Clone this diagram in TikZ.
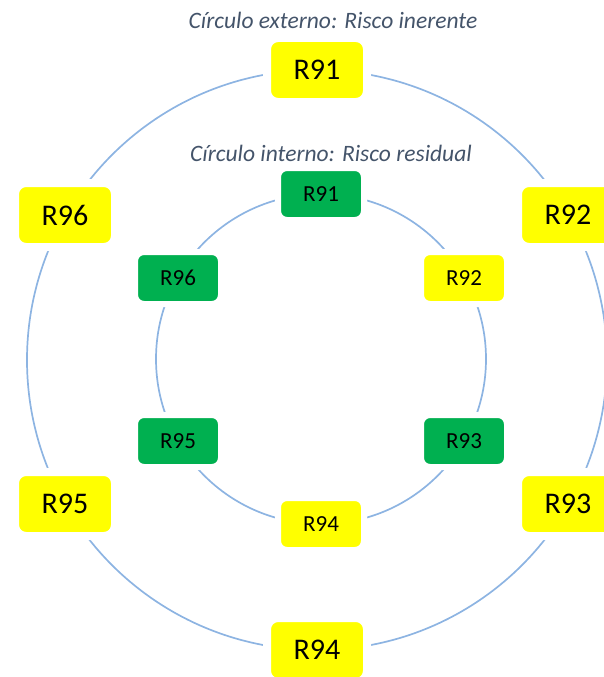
\documentclass[tikz,border=0pt]{standalone}
\usepackage{fontspec}
\setmainfont{Carlito}
\definecolor{ringblue}{HTML}{8DB4E2}
\definecolor{boxyellow}{HTML}{FFFF00}
\definecolor{boxgreen}{HTML}{00B050}
\definecolor{titlegrey}{HTML}{44546A}
\begin{document}
\begin{tikzpicture}[x=1pt,y=-1pt,
  ring/.style={draw=ringblue,line width=1.7pt},
  outerbox/.style={draw=white,line width=8pt,rounded corners=11pt,
    minimum width=100pt,minimum height=64pt,inner sep=0pt,
    font=\fontsize{30}{31}\selectfont},
  innerbox/.style={draw=white,line width=6pt,rounded corners=9pt,
    minimum width=86pt,minimum height=52pt,inner sep=0pt,
    font=\fontsize{23}{24}\selectfont},
  yel/.style={fill=boxyellow},
  grn/.style={fill=boxgreen},
  title/.style={font=\itshape\fontsize{23.5}{25}\selectfont,text=titlegrey}]
\useasboundingbox (0,0) rectangle (603,677);
\coordinate (oc) at (317,360);
\coordinate (ic) at (321,359);
\draw[ring] (oc) circle[radius=290];
\draw[ring] (ic) circle[radius=165];
\node[title] (t1) at (333,20) {Círculo externo: Risco inerente};
\node[title] (t2) at (331,153) {Círculo interno: Risco residual};
% outer
\node[outerbox,yel] (o91) at (317,70) {R91};
\node[outerbox,yel] (o92) at (568,215) {R92};
\node[outerbox,yel] (o93) at (568,504) {R93};
\node[outerbox,yel] (o94) at (317,650) {R94};
\node[outerbox,yel] (o95) at (65,504) {R95};
\node[outerbox,yel] (o96) at (65,215) {R96};
% inner
\node[innerbox,grn] (i91) at (321,194) {R91};
\node[innerbox,yel] (i92) at (464,278) {R92};
\node[innerbox,grn] (i93) at (464,441) {R93};
\node[innerbox,yel] (i94) at (321,524) {R94};
\node[innerbox,grn] (i95) at (178,441) {R95};
\node[innerbox,grn] (i96) at (178,278) {R96};
\end{tikzpicture}
\end{document}
